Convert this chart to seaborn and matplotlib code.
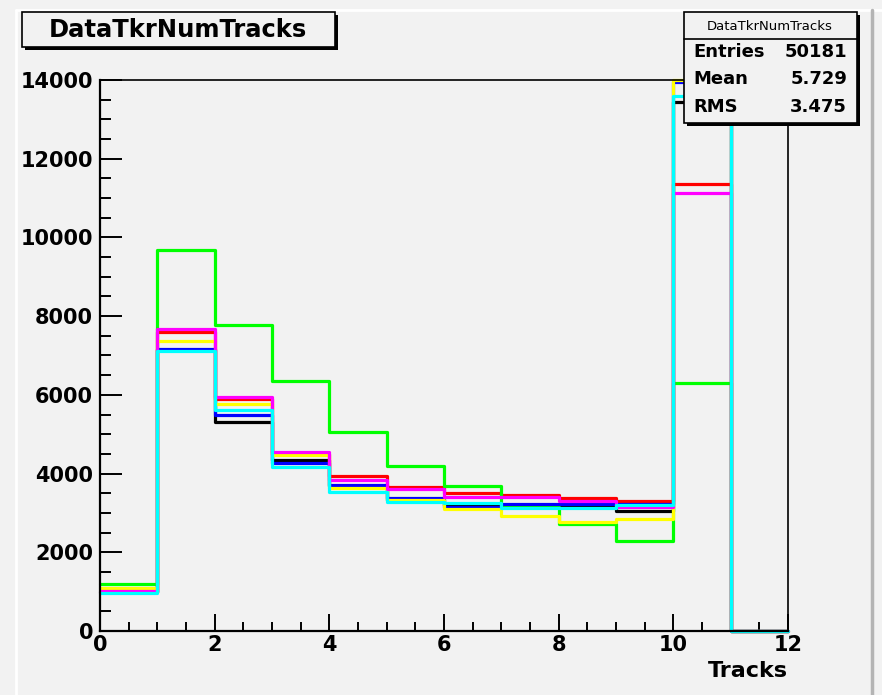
import numpy as np
import pandas as pd
import matplotlib
matplotlib.use('Agg')
import matplotlib.pyplot as plt
import seaborn as sns
from matplotlib.patches import Rectangle
from matplotlib.lines import Line2D
from matplotlib.ticker import MultipleLocator

# bins 0..12 (one per track count)
bin_centers = np.arange(12) + 0.5

black = [1000, 7130, 5320, 4345, 3680, 3320, 3210, 3200, 3180, 3040, 13450, 0]
red = [1000, 7590, 5900, 4500, 3947, 3651, 3499, 3456, 3372, 3311, 11358, 0]
green = [1186, 9680, 7775, 6353, 5045, 4200, 3684, 3159, 2719, 2279, 6302, 0]
blue = [1000, 7166, 5489, 4260, 3710, 3372, 3159, 3219, 3219, 3220, 13940, 0]
yellow = [1100, 7361, 5760, 4472, 3626, 3330, 3092, 2922, 2778, 2838, 14000, 0]
magenta = [1016, 7674, 5938, 4540, 3837, 3600, 3413, 3397, 3311, 3159, 11138, 0]
cyan = [958, 7115, 5616, 4175, 3540, 3286, 3260, 3117, 3134, 3202, 13603, 0]

series = [black, red, green, blue, yellow, magenta, cyan]
colors = ['#000000', '#ff0000', '#00ff00', '#0000ff', '#ffff00', '#ff00ff', '#00ffff']

stats_labels = ['Entries', 'Mean', 'RMS']
stats_values = ['50181', '5.729', '3.475']

bg = '#f2f2f2'
sns.set_style('ticks')
plt.rcParams['font.family'] = ['DejaVu Sans']
plt.rcParams['text.color'] = 'black'
plt.rcParams['axes.labelcolor'] = 'black'
plt.rcParams['xtick.color'] = 'black'
plt.rcParams['ytick.color'] = 'black'
plt.rcParams['axes.edgecolor'] = 'black'

W, H = 882, 695
fig = plt.figure(figsize=(W / 100, H / 100), dpi=100, facecolor=bg)
ax = fig.add_axes([100 / W, 1 - 631 / H, 688 / W, 551 / H])
ax.set_facecolor(bg)

for vals, col in zip(series, colors):
    df = pd.DataFrame({'tracks': bin_centers, 'count': vals})
    sns.histplot(data=df, x='tracks', weights='count', binwidth=1, binrange=(0, 12),
                 element='step', fill=False, color=col, linewidth=2.3, clip_on=False, ax=ax)

ax.set_xlim(0, 12)
ax.set_ylim(0, 14000)
ax.set_xticks(range(0, 13, 2))
ax.set_yticks(range(0, 14001, 2000))
ax.xaxis.set_minor_locator(MultipleLocator(0.5))
ax.yaxis.set_minor_locator(MultipleLocator(500))
ax.tick_params(which='both', direction='in', top=False, right=False, color='black')
ax.tick_params(axis='y', which='major', length=16, width=1.4, pad=5, labelsize=15)
ax.tick_params(axis='y', which='minor', length=8, width=1.4)
ax.tick_params(axis='x', which='major', length=12, width=1.4, pad=3, labelsize=15)
ax.tick_params(axis='x', which='minor', length=6.5, width=1.4)
for lab in ax.get_xticklabels() + ax.get_yticklabels():
    lab.set_fontweight('bold')
ax.set_ylabel('')
ax.set_xlabel('Tracks', loc='right', fontsize=16, fontweight='bold', labelpad=4)
for side in ['left', 'bottom']:
    ax.spines[side].set_linewidth(1.6)
for side in ['top', 'right']:
    ax.spines[side].set_linewidth(1.2)
    ax.spines[side].set_visible(True)


def box(x0, y0, x1, y1, **kw):
    # rectangle in pixel coords (origin top left)
    return Rectangle((x0 / W, 1 - y1 / H), (x1 - x0) / W, (y1 - y0) / H,
                     transform=fig.transFigure, **kw)


# canvas bevel
fig.add_artist(Line2D([16 / W, 16 / W], [0, 1 - 10 / H], transform=fig.transFigure, color='white', lw=2))
fig.add_artist(Line2D([16 / W, 1], [1 - 10 / H, 1 - 10 / H], transform=fig.transFigure, color='white', lw=2))
fig.add_artist(Line2D([872 / W, 872 / W], [0, 1 - 10 / H], transform=fig.transFigure, color='#b4b4b4', lw=2.5))

# title box
fig.add_artist(box(25, 15, 338, 50, facecolor='black', edgecolor='none', zorder=5))
fig.add_artist(box(22, 12, 335, 47, facecolor=bg, edgecolor='black', lw=1.2, zorder=6))
fig.text(178 / W, 1 - 30 / H, 'DataTkrNumTracks', ha='center', va='center',
         fontsize=17.5, fontweight='bold', zorder=7)

# stats box
fig.add_artist(box(687, 15, 860, 126, facecolor='black', edgecolor='none', zorder=5))
fig.add_artist(box(684, 12, 857, 123, facecolor=bg, edgecolor='black', lw=1.2, zorder=6))
fig.add_artist(Line2D([684 / W, 857 / W], [1 - 39 / H, 1 - 39 / H], transform=fig.transFigure,
                      color='black', lw=1.2, zorder=7))
fig.text(770 / W, 1 - 26 / H, 'DataTkrNumTracks', ha='center', va='center',
         fontsize=9.5, zorder=7)
for i, (lab, val) in enumerate(zip(stats_labels, stats_values)):
    yy = 1 - (52 + i * 27.5) / H
    fig.text(693 / W, yy, lab, ha='left', va='center', fontsize=13, fontweight='bold', zorder=7)
    fig.text(847 / W, yy, val, ha='right', va='center', fontsize=13, fontweight='bold', zorder=7)

fig.savefig('out.png', dpi=100, facecolor=bg)
